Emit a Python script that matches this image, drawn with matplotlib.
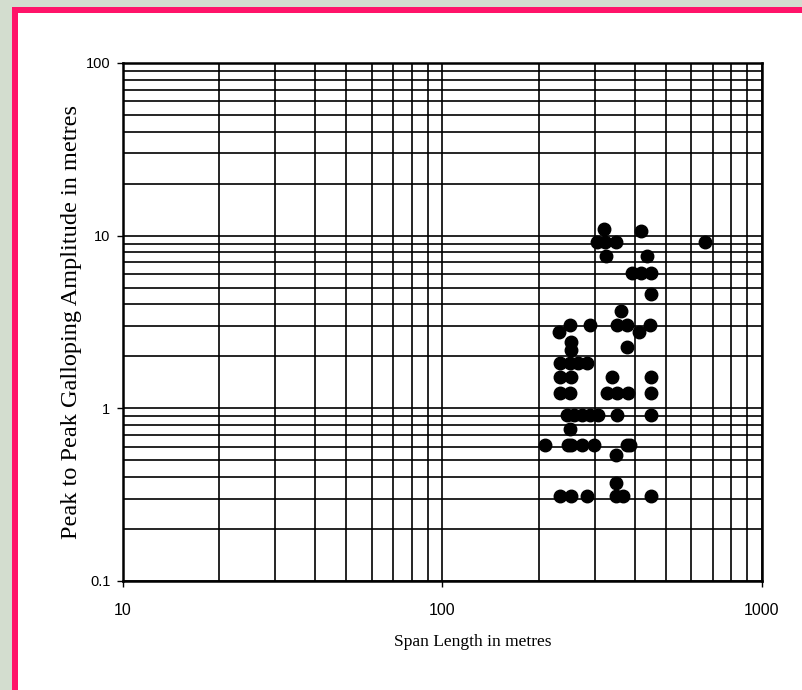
import matplotlib.pyplot as plt
from matplotlib.patches import Rectangle
from matplotlib.ticker import LogLocator, NullFormatter

# span length (m) grouped by galloping amplitude (m)
amp_rows = [10.9, 10.6, 9.2, 7.6, 6.1, 4.6, 3.66, 3.05, 2.78, 2.43, 2.27, 2.18,
            1.82, 1.52, 1.22, 0.92, 0.76, 0.61, 0.54, 0.37, 0.31]
span_rows = [
    [320],
    [418],
    [305, 323, 350, 663],
    [324, 437],
    [392, 418, 448],
    [448],
    [361],
    [251, 290, 352, 377, 445],
    [232, 411],
    [253],
    [377],
    [252],
    [233, 250, 266, 283],
    [233, 253, 339, 448],
    [233, 250, 327, 352, 382, 448],
    [245, 258, 273, 290, 306, 351, 448],
    [251],
    [210, 247, 253, 273, 299, 377, 386],
    [348],
    [348],
    [233, 253, 284, 348, 367, 448],
]

span = [s for row in span_rows for s in row]
amp = [a for a, row in zip(amp_rows, span_rows) for _ in row]

W, H = 803, 690
fig = plt.figure(figsize=(W / 100, H / 100), dpi=100, facecolor="#d3ddcf")

# white panel with pink frame on left and top
fig.patches.append(Rectangle((17 / W, 0), 1, 1 - 13 / H, transform=fig.transFigure,
                             facecolor="white", edgecolor="none", zorder=-2))
fig.patches.append(Rectangle((12 / W, 0), 6 / W, 1 - 7 / H, transform=fig.transFigure,
                             facecolor="#ff1469", edgecolor="none", zorder=-1))
fig.patches.append(Rectangle((12 / W, 1 - 13 / H), 1, 6 / H, transform=fig.transFigure,
                             facecolor="#ff1469", edgecolor="none", zorder=-1))

ax = fig.add_axes([123 / W, 1 - 581 / H, (762 - 123) / W, (581 - 63) / H])
ax.set_facecolor("white")
ax.set_xscale("log")
ax.set_yscale("log")
ax.set_xlim(10, 1000)
ax.set_ylim(0.1, 100)

ax.set_xticks([10, 100, 1000], ["10", "100", "1000"])
ax.set_yticks([0.1, 1, 10, 100], ["0.1", "1", "10", "100"])
for axis in (ax.xaxis, ax.yaxis):
    axis.set_minor_locator(LogLocator(base=10, subs=range(2, 10)))
    axis.set_minor_formatter(NullFormatter())

ax.grid(True, which="both", color="black", linewidth=1.2)
ax.set_axisbelow(True)
for s in ax.spines.values():
    s.set_linewidth(1.8)

ax.plot(span, amp, "o", color="black", markersize=9, zorder=3)

ax.tick_params(which="minor", length=0)
ax.tick_params(axis="x", which="major", length=4, width=1, pad=12, labelsize=11.5)
ax.tick_params(axis="y", which="major", length=4, width=1, pad=5, labelsize=10.5)
for lab in ax.get_xticklabels() + ax.get_yticklabels():
    lab.set_fontfamily("Liberation Sans")

ax.set_xlabel("Span Length in metres", fontfamily="Liberation Serif", fontsize=12.5,
              labelpad=11, x=0.548)
ax.set_ylabel("Peak to Peak Galloping Amplitude in metres", fontfamily="Liberation Serif",
              fontsize=17.5, labelpad=3)

fig.savefig("out.png", dpi=100, facecolor=fig.get_facecolor())
